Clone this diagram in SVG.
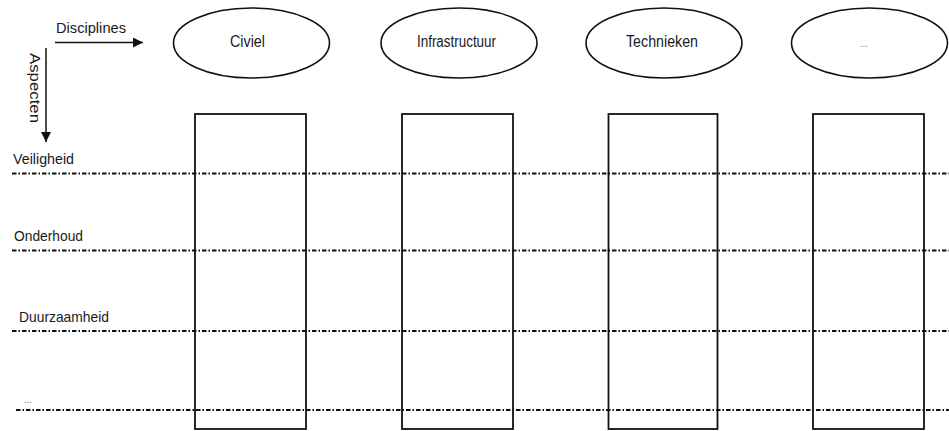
<svg xmlns="http://www.w3.org/2000/svg" width="949" height="431" viewBox="0 0 949 431">
  <style>
    .txt { font-family: "Liberation Sans", Arial, sans-serif; fill: #1a1a1a; }
    .lbl { font-size: 16px; }
    .side { font-size: 15px; }
    .ell { fill: none; stroke: #111; stroke-width: 1.6; }
    .col { fill: none; stroke: #111; stroke-width: 1.8; }
    .row { stroke: #111; stroke-width: 1.8; stroke-dasharray: 4.5 2 1.5 2; fill: none; }
    .axis { stroke: #111; stroke-width: 1.5; fill: none; }
    .dots { font-size: 10px; fill: #777; }
  </style>
  <defs>
    <marker id="head" viewBox="0 0 10 10" refX="10" refY="5" markerWidth="10" markerHeight="10" markerUnits="userSpaceOnUse" orient="auto">
      <path d="M0,0 L10,5 L0,10 z" fill="#111"/>
    </marker>
  </defs>
  <rect width="949" height="431" fill="#fff"/>

  <!-- axes -->
  <g id="axes">
    <line class="axis" x1="55" y1="42.5" x2="143" y2="42.5" marker-end="url(#head)"/>
    <line class="axis" x1="46" y1="48" x2="46" y2="142" marker-end="url(#head)"/>
    <text class="txt" x="56" y="33" font-size="14" textLength="70" lengthAdjust="spacingAndGlyphs">Disciplines</text>
    <text class="txt" transform="translate(30,53) rotate(90)" x="0" y="0" font-size="15" textLength="70" lengthAdjust="spacingAndGlyphs">Aspecten</text>
  </g>

  <!-- discipline columns -->
  <g id="civiel">
    <ellipse class="ell" cx="251.5" cy="43" rx="78" ry="35"/>
    <text class="txt lbl" x="247.5" y="47" text-anchor="middle" textLength="35" lengthAdjust="spacingAndGlyphs">Civiel</text>
    <rect class="col" x="195" y="114" width="111" height="315"/>
  </g>
  <g id="infrastructuur">
    <ellipse class="ell" cx="459" cy="43" rx="78" ry="35"/>
    <text class="txt lbl" x="456.5" y="47" text-anchor="middle" textLength="79" lengthAdjust="spacingAndGlyphs">Infrastructuur</text>
    <rect class="col" x="402" y="114" width="111" height="315"/>
  </g>
  <g id="technieken">
    <ellipse class="ell" cx="664" cy="43" rx="78" ry="35"/>
    <text class="txt lbl" x="662" y="47" text-anchor="middle" textLength="72" lengthAdjust="spacingAndGlyphs">Technieken</text>
    <rect class="col" x="608.5" y="114" width="109" height="315"/>
  </g>
  <g id="overig-discipline">
    <ellipse class="ell" cx="869.5" cy="43" rx="78" ry="35"/>
    <text class="txt dots" x="864" y="47" text-anchor="middle">...</text>
    <rect class="col" x="813" y="114" width="111" height="315"/>
  </g>

  <!-- aspect rows -->
  <g id="rows">
    <line class="row" x1="12" y1="173.5" x2="949" y2="173.5"/>
    <line class="row" x1="12" y1="250.5" x2="949" y2="250.5"/>
    <line class="row" x1="12" y1="331" x2="949" y2="331"/>
    <line class="row" x1="16" y1="410" x2="949" y2="410"/>
  </g>
  <g id="veiligheid">
    <text class="txt side" x="13" y="164" textLength="61" lengthAdjust="spacingAndGlyphs">Veiligheid</text>
  </g>
  <g id="onderhoud">
    <text class="txt side" x="14" y="241" textLength="69" lengthAdjust="spacingAndGlyphs">Onderhoud</text>
  </g>
  <g id="duurzaamheid">
    <text class="txt side" x="19" y="322" textLength="90" lengthAdjust="spacingAndGlyphs">Duurzaamheid</text>
  </g>
  <g id="overig-aspect">
    <text class="txt dots" x="24" y="403">...</text>
  </g>
</svg>
